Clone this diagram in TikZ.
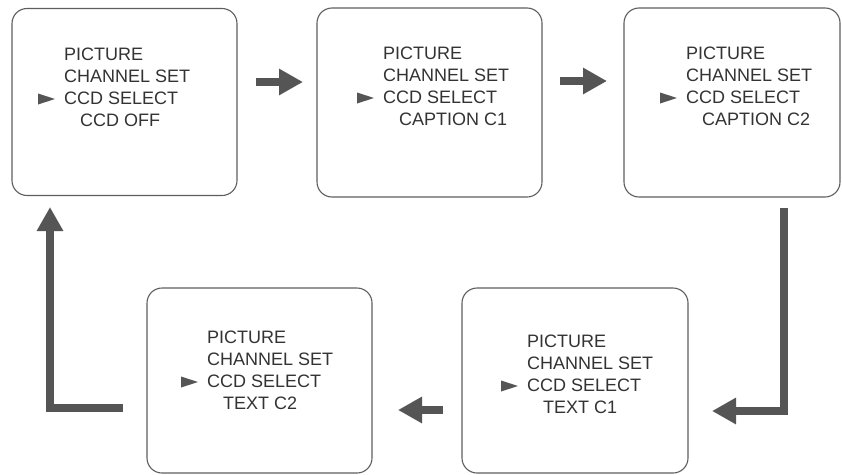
\documentclass[tikz,border=0pt]{standalone}
\usepackage{fontspec}
\setmainfont{Liberation Sans}
\usetikzlibrary{arrows.meta}
\definecolor{boxgray}{HTML}{5E5E5E}
\definecolor{textgray}{HTML}{333333}
\definecolor{arrowgray}{HTML}{555555}
\tikzset{
  menubox/.style={draw=boxgray, line width=1.1pt, rounded corners=15pt, inner sep=0pt},
  menuline/.style={anchor=base west, inner sep=0pt, text=textgray, font=\fontsize{18}{22}\selectfont},
  bigarrow/.style={draw=arrowgray, line width=8.5pt, line join=miter,
    -{Triangle[length=24pt, width=25pt]}},
}
\newcommand\menutext[4]{%
  \node[menuline] (#1-1) at (#2,#3) {PICTURE};
  \node[menuline] (#1-2) at (#2,#3+22) {CHANNEL SET};
  \node[menuline] (#1-3) at (#2,#3+44) {CCD SELECT};
  \node[menuline] (#1-4) at (#2+16,#3+66) {#4};
  \fill[arrowgray] (#2-26,#3+44-10.5) -- (#2-9,#3+44-5) -- (#2-26,#3+44+0.5) -- cycle;
}
\begin{document}
\begin{tikzpicture}[x=1pt,y=-1pt]
  \useasboundingbox[fill=white] (0,0) rectangle (842,474);
  % boxes
  \node[menubox, minimum width=225pt, minimum height=187pt] (b1) at (124.5,102) {};
  \node[menubox, minimum width=225pt, minimum height=189pt] (b2) at (429.5,102.5) {};
  \node[menubox, minimum width=216pt, minimum height=189pt] (b3) at (732,102.5) {};
  \node[menubox, minimum width=226pt, minimum height=185pt] (b4) at (575,380.5) {};
  \node[menubox, minimum width=225pt, minimum height=185pt] (b5) at (259.5,380.5) {};
  % texts
  \menutext{t1}{64}{60}{CCD OFF}
  \menutext{t2}{383}{59}{CAPTION C1}
  \menutext{t3}{686}{59}{CAPTION C2}
  \menutext{t4}{527}{347}{TEXT C1}
  \menutext{t5}{207}{343}{TEXT C2}
  % arrow end points
  \coordinate (a1s) at (256,82);
  \coordinate (a1e) at (303,82);
  \coordinate (a2s) at (560,81);
  \coordinate (a2e) at (607,81);
  \coordinate (a3s) at (784,208);
  \coordinate (a3e) at (712,411);
  \coordinate (a4s) at (443,410);
  \coordinate (a4e) at (398,410);
  \coordinate (a5s) at (123,408);
  \coordinate (a5e) at (50,207);
  % arrows
  \draw[bigarrow] (a1s) -- (a1e);
  \draw[bigarrow] (a2s) -- (a2e);
  \draw[bigarrow] (a3s) |- (a3e);
  \draw[bigarrow] (a4s) -- (a4e);
  \draw[bigarrow] (a5s) -| (a5e);
\end{tikzpicture}
\end{document}
